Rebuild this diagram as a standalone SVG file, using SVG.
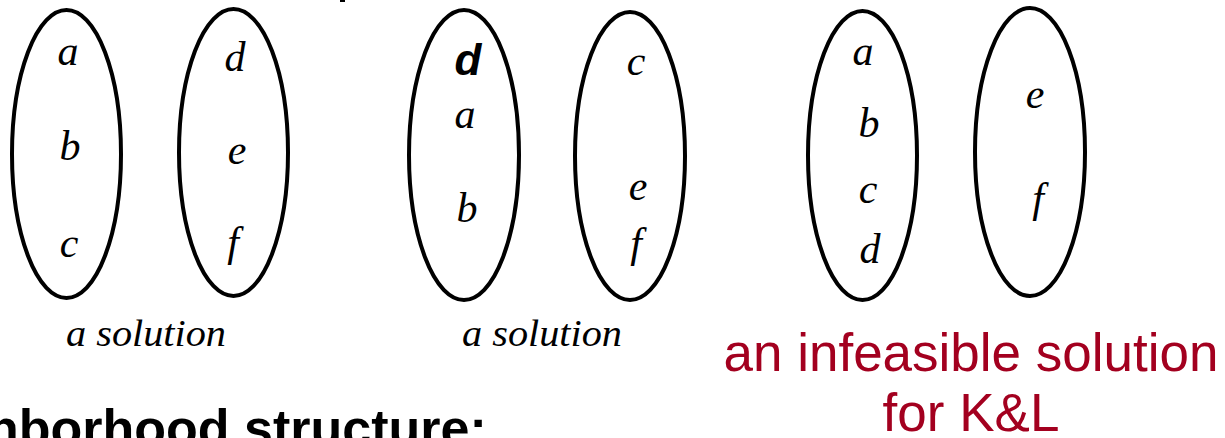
<svg xmlns="http://www.w3.org/2000/svg" width="1225" height="438" viewBox="0 0 1225 438">
<style>
.set{fill:none;stroke:#000;stroke-width:4}
.el{font-family:"Liberation Serif","Times New Roman",serif;font-style:italic;font-size:42px;fill:#000;text-anchor:middle}
.bd{font-family:"Liberation Sans",Arial,sans-serif;font-style:italic;font-weight:bold;font-size:44px;fill:#000;text-anchor:middle}
.cap{font-family:"Liberation Serif","Times New Roman",serif;font-style:italic;font-size:37px;fill:#000}
.red{font-family:"Liberation Sans",Arial,sans-serif;font-size:53px;fill:#a3001f;text-anchor:middle}
.head{font-family:"Liberation Sans",Arial,sans-serif;font-weight:bold;font-size:52px;fill:#000}
</style>
<rect width="1225" height="438" fill="#fff"/>
<g id="sol1-set1"><ellipse class="set" cx="66.5" cy="154" rx="54.5" ry="144"/>
<text class="el" x="68" y="65">a</text><text class="el" x="70" y="160">b</text><text class="el" x="69" y="257">c</text></g>
<g id="sol1-set2"><ellipse class="set" cx="233.5" cy="152.5" rx="54.5" ry="143.5"/>
<text class="el" x="235" y="71">d</text><text class="el" x="237" y="164">e</text><text class="el" x="233" y="256">f</text></g>
<g id="sol2-set1"><ellipse class="set" cx="464" cy="155" rx="55" ry="145"/>
<text class="bd" x="468" y="75">d</text><text class="el" x="465" y="128">a</text><text class="el" x="467" y="222">b</text></g>
<g id="sol2-set2"><ellipse class="set" cx="630" cy="156" rx="55" ry="144"/>
<text class="el" x="636" y="75">c</text><text class="el" x="638" y="200">e</text><text class="el" x="636" y="257">f</text></g>
<g id="inf-set1"><ellipse class="set" cx="862.5" cy="155.5" rx="54.5" ry="144.5"/>
<text class="el" x="863" y="65">a</text><text class="el" x="869" y="137">b</text><text class="el" x="868" y="203">c</text><text class="el" x="870" y="263">d</text></g>
<g id="inf-set2"><ellipse class="set" cx="1030" cy="152" rx="55" ry="144"/>
<text class="el" x="1035" y="108">e</text><text class="el" x="1038" y="212">f</text></g>
<g id="connectors"></g>
<g id="labels">
<text class="cap" x="66" y="346" textLength="160" lengthAdjust="spacingAndGlyphs">a solution</text>
<text class="cap" x="462" y="346" textLength="160" lengthAdjust="spacingAndGlyphs">a solution</text>
<text class="red" x="971" y="371">an infeasible solution</text>
<text class="red" x="971" y="431">for K&amp;L</text>
<text class="head" x="-13" y="446">hborhood structure:</text>
<rect x="340" y="0" width="5" height="2" fill="#000"/>
</g>
</svg>
